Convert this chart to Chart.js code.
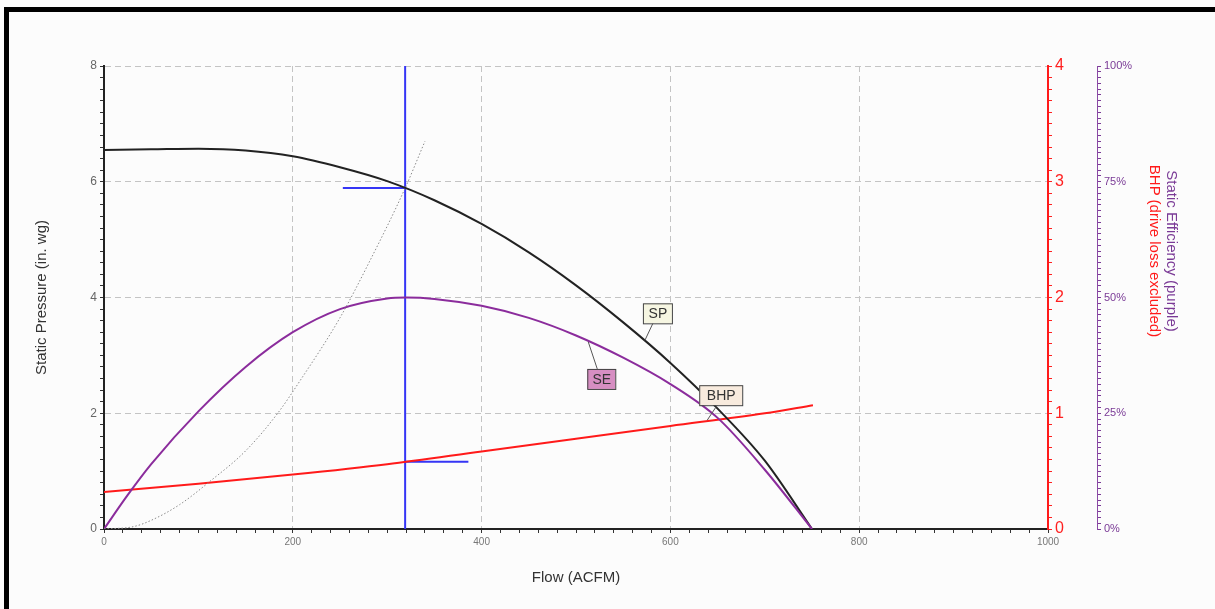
<!DOCTYPE html>
<html lang="en">
<head>
    <meta charset="UTF-8">
    <title>Fan Performance Curve</title>
    <style>
        body {
            margin: 0;
            background-color: #fcfcfc;
            font-family: "Liberation Sans", Arial, sans-serif;
        }
        .frame {
            position: absolute;
            left: 4px;
            top: 7px;
            width: 1220px;
            height: 620px;
            border-left: 5px solid #000;
            border-top: 5px solid #000;
        }
        .chart-box {
            position: absolute;
            left: 0;
            top: 0;
            width: 1215px;
            height: 609px;
        }
        .side-title {
            position: absolute;
            writing-mode: vertical-rl;
            font-size: 15px;
            transform: translate(-50%, -50%);
            white-space: nowrap;
        }
    </style>
</head>
<body>
    <div class="frame"></div>
    <div class="chart-box">
        <canvas id="fanChart" width="1215" height="609"></canvas>
    </div>
    <div class="side-title" style="left:1172px; top:251px; color:#7a3a96;">Static Efficiency (purple)</div>
    <div class="side-title" style="left:1155px; top:251px; color:#ff1a1a;">BHP (drive loss excluded)</div>

    <script src="https://cdn.jsdelivr.net/npm/chart.js"></script>
    <script>
        // fan curve (static pressure, in. wg)
        const spFlow = [0, 50, 100, 150, 200, 250, 300, 350, 400, 450, 500, 550, 600, 650, 700, 750];
        const spValues = [6.55, 6.56, 6.57, 6.54, 6.44, 6.25, 6.01, 5.68, 5.27, 4.78, 4.21, 3.57, 2.87, 2.08, 1.18, 0];

        // static efficiency (%)
        const seFlow = [0, 25, 50, 100, 150, 200, 250, 300, 320, 350, 400, 450, 500, 550, 600, 650, 700, 750];
        const seValues = [0, 7.3, 14, 25.4, 35, 42.5, 47.5, 49.8, 50, 49.7, 48.2, 45.6, 41.8, 37.0, 31.3, 24.0, 12.8, 0];

        // brake horsepower
        const bhpFlow = [0, 100, 200, 300, 400, 500, 600, 700, 751];
        const bhpValues = [0.32, 0.39, 0.47, 0.56, 0.67, 0.78, 0.89, 1.0, 1.07];

        // system curve (dotted)
        const sysFlow = [0, 31, 50, 80, 112, 150, 184, 208, 250, 280, 319, 340];
        const sysValues = [0, 0.04, 0.15, 0.42, 0.82, 1.35, 2.0, 2.57, 3.65, 4.58, 5.89, 6.7];

        // operating point
        const opFlow = 319;
        const opSP = 5.89;
        const opBHP = 0.58;
        const spMarkFrom = 253;
        const bhpMarkTo = 386;

        // curve labels
        const tagText = ['SP', 'SE', 'BHP'];
        const tagFlow = [573, 513, 639];
        const tagValue = [3.26, 40.4, 0.94];
        const tagAxis = ['y', 'y2', 'y1'];

        const toPoints = (xs, ys) => xs.map((x, i) => ({ x: x, y: ys[i] }));
        const isMult = (v, m) => Math.abs(v / m - Math.round(v / m)) < 1e-6;

        const tagPlugin = {
            id: 'curveTags',
            afterDatasetsDraw(chart) {
                const ctx = chart.ctx;
                const shift = [[-2, -37], [-1, 27], [-8, -35]];
                const fills = ['#f6f6e2', '#d68ec2', '#f8ebde'];
                const widths = [29, 28, 43];
                ctx.save();
                tagText.forEach((t, i) => {
                    const ax = chart.scales.x.getPixelForValue(tagFlow[i]);
                    const ay = chart.scales[tagAxis[i]].getPixelForValue(tagValue[i]);
                    const bx = ax + shift[i][0];
                    const by = ay + shift[i][1];
                    const w = widths[i], h = 20;
                    // leader
                    ctx.strokeStyle = '#555';
                    ctx.lineWidth = 1;
                    ctx.beginPath();
                    const lx = bx + (i === 2 ? 18 : 10);
                    const ly = shift[i][1] < 0 ? by + h : by;
                    ctx.moveTo(lx, ly);
                    ctx.lineTo(ax, ay);
                    ctx.stroke();
                    // box
                    ctx.fillStyle = fills[i];
                    ctx.fillRect(bx, by, w, h);
                    ctx.strokeStyle = '#444';
                    ctx.strokeRect(bx + 0.5, by + 0.5, w, h);
                    ctx.fillStyle = '#333';
                    ctx.font = '14px "Liberation Sans", Arial, sans-serif';
                    ctx.textAlign = 'center';
                    ctx.textBaseline = 'middle';
                    ctx.fillText(t, bx + w / 2 + 0.5, by + h / 2 + 1);
                });
                ctx.restore();
            }
        };

        const lineBase = { pointRadius: 0, fill: false, cubicInterpolationMode: 'monotone' };

        new Chart(document.getElementById('fanChart'), {
            type: 'line',
            data: {
                datasets: [
                    Object.assign({}, lineBase, {
                        label: 'System', data: toPoints(sysFlow, sysValues), yAxisID: 'y',
                        borderColor: '#8a8a8a', borderWidth: 1, borderDash: [1.5, 2]
                    }),
                    Object.assign({}, lineBase, {
                        label: 'SE', data: toPoints(seFlow, seValues), yAxisID: 'y2',
                        borderColor: '#8b2c9c', borderWidth: 2
                    }),
                    Object.assign({}, lineBase, {
                        label: 'SP', data: toPoints(spFlow, spValues), yAxisID: 'y',
                        borderColor: '#222', borderWidth: 2
                    }),
                    Object.assign({}, lineBase, {
                        label: 'BHP', data: toPoints(bhpFlow, bhpValues), yAxisID: 'y1',
                        borderColor: '#ff1a1a', borderWidth: 2
                    }),
                    {
                        label: 'op', data: [{ x: opFlow, y: 0 }, { x: opFlow, y: 8 }], yAxisID: 'y',
                        borderColor: '#3535f5', borderWidth: 2, pointRadius: 0
                    },
                    {
                        label: 'opSP', data: [{ x: spMarkFrom, y: opSP }, { x: opFlow, y: opSP }], yAxisID: 'y',
                        borderColor: '#3535f5', borderWidth: 2, pointRadius: 0
                    },
                    {
                        label: 'opBHP', data: [{ x: opFlow, y: opBHP }, { x: bhpMarkTo, y: opBHP }], yAxisID: 'y1',
                        borderColor: '#3535f5', borderWidth: 2, pointRadius: 0
                    }
                ]
            },
            options: {
                responsive: false,
                animation: false,
                layout: { padding: { left: 29, top: 66, right: 68, bottom: 18 } },
                plugins: { legend: { display: false }, tooltip: { enabled: false } },
                scales: {
                    x: {
                        type: 'linear', min: 0, max: 1000,
                        ticks: {
                            stepSize: 20, autoSkip: false, maxRotation: 0,
                            color: '#777', font: { size: 10 },
                            callback: v => isMult(v, 200) ? v : ''
                        },
                        grid: {
                            color: c => (isMult(c.tick.value, 200) && c.tick.value > 0 && c.tick.value < 1000) ? '#c4c4c4' : 'transparent',
                            tickColor: '#333', tickLength: 4
                        },
                        border: { color: '#222', width: 2, dash: [6, 4] },
                        title: { display: true, text: 'Flow (ACFM)', color: '#333', font: { size: 15 }, padding: 4 },
                        afterFit: s => { s.height = 62; }
                    },
                    y: {
                        type: 'linear', position: 'left', min: 0, max: 8,
                        ticks: {
                            stepSize: 0.2, autoSkip: false,
                            color: '#666', font: { size: 12 },
                            callback: v => isMult(v, 2) ? Math.round(v) : ''
                        },
                        grid: {
                            color: c => (isMult(c.tick.value, 2) && c.tick.value > 0) ? '#c4c4c4' : 'transparent',
                            tickColor: '#333', tickLength: 4
                        },
                        border: { color: '#222', width: 2, dash: [6, 4] },
                        title: { display: true, text: 'Static Pressure (in. wg)', color: '#333', font: { size: 15 }, padding: 4 },
                        afterFit: s => { s.width = 75; }
                    },
                    y1: {
                        type: 'linear', position: 'right', min: 0, max: 4,
                        ticks: {
                            stepSize: 0.1, autoSkip: false,
                            color: '#ff2020', font: { size: 16 },
                            callback: v => isMult(v, 1) ? Math.round(v) : ''
                        },
                        grid: { drawOnChartArea: false, tickColor: '#ff2020', tickLength: 4 },
                        border: { color: '#ff1a1a', width: 2 },
                        afterFit: s => { s.width = 49; }
                    },
                    y2: {
                        type: 'linear', position: 'right', min: 0, max: 100,
                        ticks: {
                            stepSize: 1.25, autoSkip: false,
                            color: '#7a3a96', font: { size: 11 },
                            callback: v => isMult(v, 25) ? Math.round(v) + '%' : ''
                        },
                        grid: { drawOnChartArea: false, tickColor: '#7a3a96', tickLength: 4 },
                        border: { color: '#8b4aa6', width: 1 },
                        afterFit: s => { s.width = 50; }
                    }
                }
            },
            plugins: [tagPlugin]
        });
    </script>
</body>
</html>
